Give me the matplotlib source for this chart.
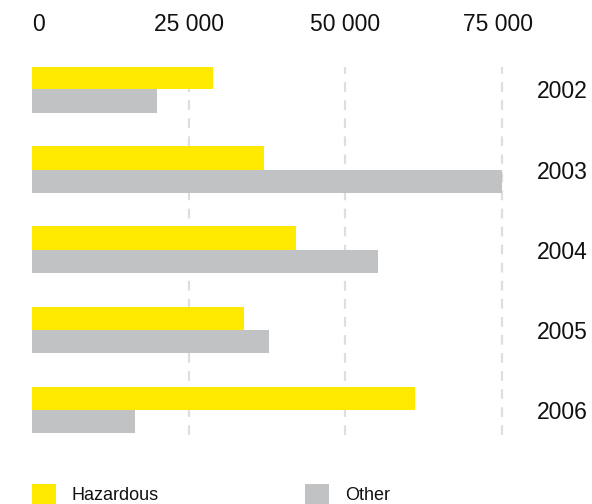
import matplotlib
matplotlib.use("Agg")
import matplotlib.pyplot as plt
import matplotlib.transforms as mtransforms
import numpy as np

years = ["2002", "2003", "2004", "2005", "2006"]
hazardous = [28900, 37000, 42100, 33900, 61100]
other = [19900, 75100, 55200, 37800, 16400]
ticks = [0, 25000, 50000, 75000]
tick_labels = ["0", "25 000", "50 000", "75 000"]

yellow = "#FFE900"
grey = "#C1C2C4"
ink = "#111111"

plt.rcParams["font.family"] = ["Liberation Sans", "DejaVu Sans"]
plt.rcParams["lines.scale_dashes"] = False

W, H = 592, 504
fig = plt.figure(figsize=(W / 100, H / 100), dpi=100)
# axes box in pixels: x 32..508, y 67..435
ax = fig.add_axes([32 / W, 1 - 435 / H, (508 - 32) / W, (435 - 67) / H])

pos = np.arange(len(years))
bh = 0.29
bh_y = ax.barh(pos - bh / 2, hazardous, height=bh, color=yellow, zorder=2, label="Hazardous")
bh_g = ax.barh(pos + bh / 2, other, height=bh, color=grey, zorder=2, label="Other")

for t in ticks[1:]:
    ax.axvline(t, color="#DEDEDE", lw=1.6, dashes=(7, 6), zorder=1)

ax.set_xlim(0, 76000)
ax.set_ylim(4.31, -0.278)

ax.xaxis.tick_top()
ax.set_xticks(ticks)
ax.set_xticklabels(tick_labels, fontsize=16.5, color=ink)
ax.tick_params(axis="x", length=0, pad=22)
labels = ax.get_xticklabels()
labels[0].set_horizontalalignment("left")
# nudge the last label a little left
labels[-1].set_transform(labels[-1].get_transform()
                         + mtransforms.ScaledTranslation(-4 / 100, 0, fig.dpi_scale_trans))

ax.yaxis.tick_right()
ax.set_yticks(pos)
ax.set_yticklabels(years, fontsize=16.5, color=ink)
ax.tick_params(axis="y", length=0, pad=21)

for s in ax.spines.values():
    s.set_visible(False)

fig.legend(handles=[bh_y, bh_g], loc="upper left", bbox_to_anchor=(31.5 / W, 1 - 484 / H),
           ncol=2, frameon=False, fontsize=13, handlelength=1.33, handleheight=1.4,
           handletextpad=0.88, columnspacing=8.1, borderpad=0, borderaxespad=0,
           labelcolor=ink)

fig.savefig("out.png", dpi=100)
